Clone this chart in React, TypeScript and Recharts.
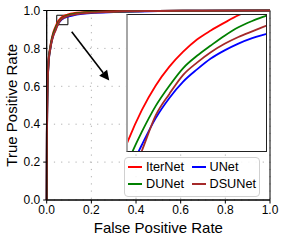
import { LineChart, Line, XAxis, YAxis, CartesianGrid, ReferenceArea, ReferenceLine } from "recharts";

const FONT = "'Liberation Sans', Arial, sans-serif";

// false positive rate grid (dense inside the zoomed window)
const fpr = [0, 0.001, 0.002, 0.004, 0.007, 0.01, 0.015, 0.02, 0.03, 0.04, 0.045, 0.05, 0.055, 0.06, 0.065, 0.07, 0.075, 0.08, 0.085, 0.09, 0.095, 0.1, 0.12, 0.15, 0.2, 0.3, 0.4, 0.5, 0.7, 1.0];
const iterNet = [0, 0.35, 0.48, 0.62, 0.71, 0.76, 0.8, 0.835, 0.885, 0.915, 0.9287, 0.94, 0.949, 0.956, 0.9615, 0.966, 0.9693, 0.9722, 0.9749, 0.977, 0.979, 0.981, 0.985, 0.989, 0.992, 0.995, 0.997, 0.998, 0.999, 1.0];
const uNet = [0, 0.34, 0.47, 0.61, 0.7, 0.75, 0.79, 0.825, 0.872, 0.902, 0.9165, 0.9272, 0.937, 0.9445, 0.9505, 0.955, 0.959, 0.962, 0.9645, 0.9665, 0.968, 0.9695, 0.975, 0.981, 0.987, 0.992, 0.995, 0.997, 0.999, 1.0];
const dUNet = [0, 0.345, 0.475, 0.615, 0.705, 0.755, 0.795, 0.83, 0.877, 0.907, 0.921, 0.932, 0.9415, 0.949, 0.9555, 0.96, 0.9638, 0.9674, 0.9705, 0.9728, 0.9747, 0.9765, 0.982, 0.987, 0.991, 0.994, 0.996, 0.998, 0.999, 1.0];
const dsUNet = [0, 0.345, 0.475, 0.615, 0.7, 0.75, 0.79, 0.824, 0.868, 0.896, 0.9125, 0.925, 0.938, 0.946, 0.953, 0.9575, 0.9613, 0.9644, 0.9669, 0.969, 0.971, 0.973, 0.978, 0.984, 0.989, 0.994, 0.996, 0.998, 0.999, 1.0];

const ticks = [0, 0.2, 0.4, 0.6, 0.8, 1.0];
const zoomX = [0.045, 0.095];
const zoomY = [0.925, 0.975];
const arrowFrom = { x: 0.112, y: 0.888 };
const arrowTo = { x: 0.28, y: 0.63 };

const SERIES = [
  { key: "iterNet", name: "IterNet", color: "#ff0000" },
  { key: "uNet", name: "UNet", color: "#0000ff" },
  { key: "dUNet", name: "DUNet", color: "#008000" },
  { key: "dsUNet", name: "DSUNet", color: "#a52a2a" },
];

const data = fpr.map((x, i) => ({
  fpr: x,
  iterNet: iterNet[i],
  uNet: uNet[i],
  dUNet: dUNet[i],
  dsUNet: dsUNet[i],
}));

const tickStyle = { fill: "#000", fontSize: 12, fontFamily: FONT };
const labelStyle = { fontSize: 15, fill: "#000", fontFamily: FONT };
const fmt = (v: number) => v.toFixed(1);

function Arrow(p: any) {
  const { x1, y1, x2, y2 } = p;
  const a = Math.atan2(y2 - y1, x2 - x1);
  const L = 10;
  const W = 5;
  const bx = x2 - L * Math.cos(a);
  const by = y2 - L * Math.sin(a);
  const px = -Math.sin(a) * W;
  const py = Math.cos(a) * W;
  return (
    <g>
      <line x1={x1} y1={y1} x2={bx} y2={by} stroke="#000" strokeWidth={1.6} />
      <polygon points={`${x2},${y2} ${bx + px},${by + py} ${bx - px},${by - py}`} fill="#000" />
    </g>
  );
}

function ChartLegendBox() {
  return (
    <div
      style={{
        position: "absolute",
        left: 124,
        top: 157,
        width: 136,
        height: 40,
        boxSizing: "border-box",
        border: "1px solid #d0d0d0",
        borderRadius: 4,
        background: "rgba(255,255,255,0.85)",
        display: "grid",
        gridTemplateColumns: "63.5px 70px",
        gridAutoRows: "17.6px",
        paddingLeft: 3,
        fontFamily: FONT,
        fontSize: 12.7,
        color: "#000",
      }}
    >
      {SERIES.map((s) => (
        <div key={s.key} style={{ display: "flex", alignItems: "center", gap: 4 }}>
          <span style={{ width: 14, height: 2, background: s.color, display: "inline-block", flex: "none" }} />
          <span>{s.name}</span>
        </div>
      ))}
    </div>
  );
}

export default function App() {
  return (
    <div style={{ position: "absolute", left: 0, top: 0, width: 285, height: 241, background: "#fff" }}>
      <LineChart width={285} height={241} data={data} margin={{ top: 10.5, right: 15, left: 0, bottom: 0 }}>
        <CartesianGrid stroke="#b0b0b0" strokeDasharray="1.2 6" />
        <XAxis
          dataKey="fpr"
          type="number"
          domain={[0, 1]}
          ticks={ticks}
          tickFormatter={fmt}
          tick={tickStyle}
          tickSize={3.5}
          tickMargin={2}
          height={41}
          axisLine={{ stroke: "#000" }}
          tickLine={{ stroke: "#000" }}
          label={{ value: "False Positive Rate", position: "insideBottom", offset: 8, style: labelStyle }}
        />
        <YAxis
          type="number"
          domain={[0, 1]}
          ticks={ticks}
          tickFormatter={fmt}
          tick={tickStyle}
          tickSize={3.5}
          tickMargin={3}
          width={46.7}
          axisLine={{ stroke: "#000" }}
          tickLine={{ stroke: "#000" }}
          label={{ value: "True Positive Rate", angle: -90, position: "insideLeft", offset: 12, style: { ...labelStyle, textAnchor: "middle" } }}
        />
        <ReferenceArea x1={0} x2={1} y1={0} y2={1} stroke="#000" strokeWidth={1} fill="none" fillOpacity={0} />
        {SERIES.map((s) => (
          <Line key={s.key} dataKey={s.key} name={s.name} type="monotone" stroke={s.color} strokeWidth={2} dot={false} isAnimationActive={false} />
        ))}
        <ReferenceArea x1={zoomX[0]} x2={zoomX[1]} y1={zoomY[0]} y2={zoomY[1]} stroke="#000" strokeWidth={1} fill="none" fillOpacity={0} />
        <ReferenceLine segment={[arrowFrom, arrowTo]} shape={Arrow} />
      </LineChart>

      <div
        style={{
          position: "absolute",
          left: 126,
          top: 14,
          width: 141,
          height: 138,
          boxSizing: "border-box",
          borderTop: "1px solid #222",
          borderRight: "1px solid #222",
          borderBottom: "1px solid #222",
          borderLeft: "2px solid #a6a6a6",
          background: "#fff",
        }}
      >
        <LineChart width={138} height={136} data={data} margin={{ top: 0, right: 0, left: 0, bottom: 0 }}>
          <XAxis dataKey="fpr" type="number" domain={zoomX} allowDataOverflow hide />
          <YAxis type="number" domain={zoomY} allowDataOverflow hide />
          {SERIES.map((s) => (
            <Line key={s.key} dataKey={s.key} name={s.name} type="monotone" stroke={s.color} strokeWidth={1.8} dot={false} isAnimationActive={false} />
          ))}
        </LineChart>
      </div>

      <ChartLegendBox />
    </div>
  );
}
